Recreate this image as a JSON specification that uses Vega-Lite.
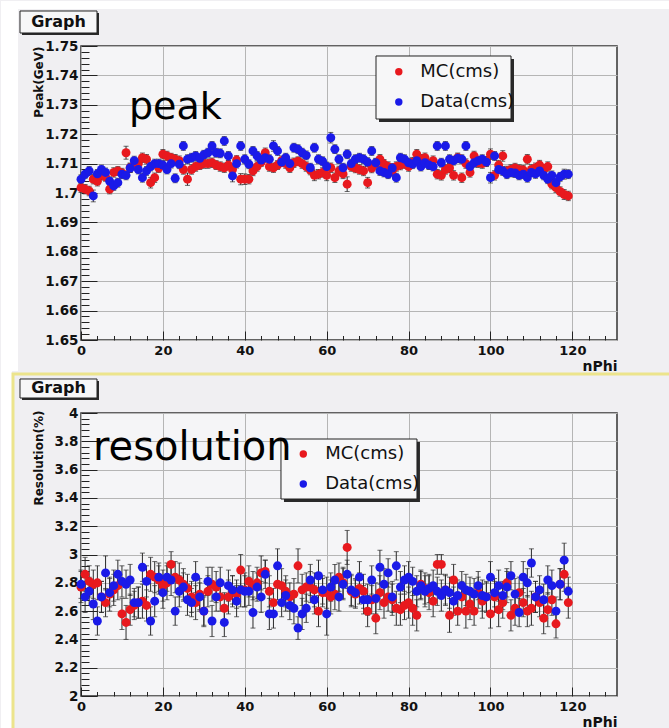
{
"$schema": "https://vega.github.io/schema/vega-lite/v6.json",
"background": "#f0eff2",
"padding": 0,
"autosize": {"type": "pad"},
"datasets": {
"peak": [
{"s":"MC(cms)","n":0,"v":1.7018,"e":0.0016},{"s":"MC(cms)","n":1,"v":1.7013,"e":0.0016},{"s":"MC(cms)","n":2,"v":1.7007,"e":0.0016},{"s":"MC(cms)","n":3,"v":1.7047,"e":0.0016},{"s":"MC(cms)","n":4,"v":1.704,"e":0.0016},{"s":"MC(cms)","n":5,"v":1.706,"e":0.0016},{"s":"MC(cms)","n":6,"v":1.7055,"e":0.0015},{"s":"MC(cms)","n":7,"v":1.7013,"e":0.0016},{"s":"MC(cms)","n":8,"v":1.707,"e":0.0016},{"s":"MC(cms)","n":9,"v":1.7075,"e":0.0015},
{"s":"MC(cms)","n":10,"v":1.7068,"e":0.0016},{"s":"MC(cms)","n":11,"v":1.7137,"e":0.0022},{"s":"MC(cms)","n":12,"v":1.7086,"e":0.0016},{"s":"MC(cms)","n":13,"v":1.7095,"e":0.0015},{"s":"MC(cms)","n":14,"v":1.71,"e":0.0016},{"s":"MC(cms)","n":15,"v":1.712,"e":0.0016},{"s":"MC(cms)","n":16,"v":1.7115,"e":0.0016},{"s":"MC(cms)","n":17,"v":1.7035,"e":0.0018},{"s":"MC(cms)","n":18,"v":1.7052,"e":0.0016},{"s":"MC(cms)","n":19,"v":1.7085,"e":0.0015},
{"s":"MC(cms)","n":20,"v":1.7132,"e":0.0016},{"s":"MC(cms)","n":21,"v":1.7126,"e":0.0016},{"s":"MC(cms)","n":22,"v":1.712,"e":0.0015},{"s":"MC(cms)","n":23,"v":1.7115,"e":0.0016},{"s":"MC(cms)","n":24,"v":1.711,"e":0.0016},{"s":"MC(cms)","n":25,"v":1.708,"e":0.0016},{"s":"MC(cms)","n":26,"v":1.7047,"e":0.0021},{"s":"MC(cms)","n":27,"v":1.708,"e":0.0016},{"s":"MC(cms)","n":28,"v":1.709,"e":0.0016},{"s":"MC(cms)","n":29,"v":1.7095,"e":0.0015},
{"s":"MC(cms)","n":30,"v":1.71,"e":0.0016},{"s":"MC(cms)","n":31,"v":1.71,"e":0.0016},{"s":"MC(cms)","n":32,"v":1.7103,"e":0.0016},{"s":"MC(cms)","n":33,"v":1.7095,"e":0.0015},{"s":"MC(cms)","n":34,"v":1.709,"e":0.0016},{"s":"MC(cms)","n":35,"v":1.7086,"e":0.0016},{"s":"MC(cms)","n":36,"v":1.7095,"e":0.0016},{"s":"MC(cms)","n":37,"v":1.708,"e":0.0016},{"s":"MC(cms)","n":38,"v":1.7112,"e":0.0015},{"s":"MC(cms)","n":39,"v":1.7047,"e":0.0019},
{"s":"MC(cms)","n":40,"v":1.7047,"e":0.0018},{"s":"MC(cms)","n":41,"v":1.7047,"e":0.0016},{"s":"MC(cms)","n":42,"v":1.7075,"e":0.0016},{"s":"MC(cms)","n":43,"v":1.709,"e":0.0016},{"s":"MC(cms)","n":44,"v":1.7105,"e":0.0015},{"s":"MC(cms)","n":45,"v":1.7137,"e":0.0016},{"s":"MC(cms)","n":46,"v":1.709,"e":0.0016},{"s":"MC(cms)","n":47,"v":1.7086,"e":0.0016},{"s":"MC(cms)","n":48,"v":1.7095,"e":0.0015},{"s":"MC(cms)","n":49,"v":1.711,"e":0.0016},
{"s":"MC(cms)","n":50,"v":1.71,"e":0.0016},{"s":"MC(cms)","n":51,"v":1.7086,"e":0.0016},{"s":"MC(cms)","n":52,"v":1.7103,"e":0.0016},{"s":"MC(cms)","n":53,"v":1.7108,"e":0.0015},{"s":"MC(cms)","n":54,"v":1.71,"e":0.0016},{"s":"MC(cms)","n":55,"v":1.709,"e":0.0016},{"s":"MC(cms)","n":56,"v":1.7078,"e":0.0016},{"s":"MC(cms)","n":57,"v":1.706,"e":0.0018},{"s":"MC(cms)","n":58,"v":1.7064,"e":0.0016},{"s":"MC(cms)","n":59,"v":1.707,"e":0.0016},
{"s":"MC(cms)","n":60,"v":1.706,"e":0.0018},{"s":"MC(cms)","n":61,"v":1.7086,"e":0.0016},{"s":"MC(cms)","n":62,"v":1.7052,"e":0.0016},{"s":"MC(cms)","n":63,"v":1.7075,"e":0.0016},{"s":"MC(cms)","n":64,"v":1.7065,"e":0.0016},{"s":"MC(cms)","n":65,"v":1.703,"e":0.0025},{"s":"MC(cms)","n":66,"v":1.709,"e":0.0016},{"s":"MC(cms)","n":67,"v":1.7085,"e":0.0016},{"s":"MC(cms)","n":68,"v":1.708,"e":0.0016},{"s":"MC(cms)","n":69,"v":1.7075,"e":0.0016},
{"s":"MC(cms)","n":70,"v":1.7035,"e":0.0018},{"s":"MC(cms)","n":71,"v":1.7085,"e":0.0016},{"s":"MC(cms)","n":72,"v":1.71,"e":0.0016},{"s":"MC(cms)","n":73,"v":1.7115,"e":0.0016},{"s":"MC(cms)","n":74,"v":1.7098,"e":0.0016},{"s":"MC(cms)","n":75,"v":1.709,"e":0.0016},{"s":"MC(cms)","n":76,"v":1.7075,"e":0.0016},{"s":"MC(cms)","n":77,"v":1.709,"e":0.0016},{"s":"MC(cms)","n":78,"v":1.7095,"e":0.0016},{"s":"MC(cms)","n":79,"v":1.71,"e":0.0016},
{"s":"MC(cms)","n":80,"v":1.709,"e":0.0016},{"s":"MC(cms)","n":81,"v":1.7105,"e":0.0016},{"s":"MC(cms)","n":82,"v":1.7132,"e":0.0016},{"s":"MC(cms)","n":83,"v":1.7115,"e":0.0016},{"s":"MC(cms)","n":84,"v":1.712,"e":0.0016},{"s":"MC(cms)","n":85,"v":1.7098,"e":0.0016},{"s":"MC(cms)","n":86,"v":1.711,"e":0.0016},{"s":"MC(cms)","n":87,"v":1.7064,"e":0.0016},{"s":"MC(cms)","n":88,"v":1.706,"e":0.0016},{"s":"MC(cms)","n":89,"v":1.708,"e":0.0016},
{"s":"MC(cms)","n":90,"v":1.7085,"e":0.0016},{"s":"MC(cms)","n":91,"v":1.706,"e":0.0016},{"s":"MC(cms)","n":92,"v":1.712,"e":0.0016},{"s":"MC(cms)","n":93,"v":1.7052,"e":0.0016},{"s":"MC(cms)","n":94,"v":1.71,"e":0.0016},{"s":"MC(cms)","n":95,"v":1.707,"e":0.0016},{"s":"MC(cms)","n":96,"v":1.7126,"e":0.0016},{"s":"MC(cms)","n":97,"v":1.7103,"e":0.0016},{"s":"MC(cms)","n":98,"v":1.71,"e":0.0016},{"s":"MC(cms)","n":99,"v":1.7108,"e":0.0016},
{"s":"MC(cms)","n":100,"v":1.7132,"e":0.0018},{"s":"MC(cms)","n":101,"v":1.706,"e":0.0016},{"s":"MC(cms)","n":102,"v":1.7095,"e":0.0016},{"s":"MC(cms)","n":103,"v":1.7126,"e":0.0018},{"s":"MC(cms)","n":104,"v":1.7075,"e":0.0016},{"s":"MC(cms)","n":105,"v":1.708,"e":0.0016},{"s":"MC(cms)","n":106,"v":1.7085,"e":0.0016},{"s":"MC(cms)","n":107,"v":1.708,"e":0.0016},{"s":"MC(cms)","n":108,"v":1.7078,"e":0.0016},{"s":"MC(cms)","n":109,"v":1.7115,"e":0.0016},
{"s":"MC(cms)","n":110,"v":1.708,"e":0.0016},{"s":"MC(cms)","n":111,"v":1.7086,"e":0.0016},{"s":"MC(cms)","n":112,"v":1.7095,"e":0.0016},{"s":"MC(cms)","n":113,"v":1.708,"e":0.0016},{"s":"MC(cms)","n":114,"v":1.709,"e":0.0016},{"s":"MC(cms)","n":115,"v":1.703,"e":0.0016},{"s":"MC(cms)","n":116,"v":1.7018,"e":0.0016},{"s":"MC(cms)","n":117,"v":1.7005,"e":0.0016},{"s":"MC(cms)","n":118,"v":1.6995,"e":0.0017},{"s":"MC(cms)","n":119,"v":1.699,"e":0.0016},
{"s":"Data(cms)","n":0,"v":1.7047,"e":0.0015},{"s":"Data(cms)","n":1,"v":1.7064,"e":0.0015},{"s":"Data(cms)","n":2,"v":1.7075,"e":0.0015},{"s":"Data(cms)","n":3,"v":1.699,"e":0.002},{"s":"Data(cms)","n":4,"v":1.7065,"e":0.0015},{"s":"Data(cms)","n":5,"v":1.708,"e":0.0015},{"s":"Data(cms)","n":6,"v":1.707,"e":0.0015},{"s":"Data(cms)","n":7,"v":1.704,"e":0.0015},{"s":"Data(cms)","n":8,"v":1.7024,"e":0.0015},{"s":"Data(cms)","n":9,"v":1.7035,"e":0.0015},
{"s":"Data(cms)","n":10,"v":1.7064,"e":0.0015},{"s":"Data(cms)","n":11,"v":1.706,"e":0.0015},{"s":"Data(cms)","n":12,"v":1.7085,"e":0.0015},{"s":"Data(cms)","n":13,"v":1.711,"e":0.0015},{"s":"Data(cms)","n":14,"v":1.708,"e":0.0015},{"s":"Data(cms)","n":15,"v":1.7052,"e":0.0015},{"s":"Data(cms)","n":16,"v":1.7075,"e":0.0015},{"s":"Data(cms)","n":17,"v":1.709,"e":0.0015},{"s":"Data(cms)","n":18,"v":1.71,"e":0.0015},{"s":"Data(cms)","n":19,"v":1.71,"e":0.0015},
{"s":"Data(cms)","n":20,"v":1.7095,"e":0.0015},{"s":"Data(cms)","n":21,"v":1.708,"e":0.0015},{"s":"Data(cms)","n":22,"v":1.71,"e":0.0015},{"s":"Data(cms)","n":23,"v":1.705,"e":0.0015},{"s":"Data(cms)","n":24,"v":1.7098,"e":0.0015},{"s":"Data(cms)","n":25,"v":1.716,"e":0.0015},{"s":"Data(cms)","n":26,"v":1.7115,"e":0.0015},{"s":"Data(cms)","n":27,"v":1.712,"e":0.0015},{"s":"Data(cms)","n":28,"v":1.7126,"e":0.0015},{"s":"Data(cms)","n":29,"v":1.7118,"e":0.0015},
{"s":"Data(cms)","n":30,"v":1.713,"e":0.0015},{"s":"Data(cms)","n":31,"v":1.7137,"e":0.0015},{"s":"Data(cms)","n":32,"v":1.716,"e":0.0015},{"s":"Data(cms)","n":33,"v":1.7137,"e":0.0015},{"s":"Data(cms)","n":34,"v":1.7135,"e":0.0015},{"s":"Data(cms)","n":35,"v":1.7177,"e":0.0015},{"s":"Data(cms)","n":36,"v":1.7126,"e":0.0015},{"s":"Data(cms)","n":37,"v":1.7058,"e":0.002},{"s":"Data(cms)","n":38,"v":1.71,"e":0.0015},{"s":"Data(cms)","n":39,"v":1.716,"e":0.0015},
{"s":"Data(cms)","n":40,"v":1.7115,"e":0.0015},{"s":"Data(cms)","n":41,"v":1.7098,"e":0.0015},{"s":"Data(cms)","n":42,"v":1.7143,"e":0.0015},{"s":"Data(cms)","n":43,"v":1.7126,"e":0.0015},{"s":"Data(cms)","n":44,"v":1.7112,"e":0.0015},{"s":"Data(cms)","n":45,"v":1.712,"e":0.0015},{"s":"Data(cms)","n":46,"v":1.7115,"e":0.0015},{"s":"Data(cms)","n":47,"v":1.716,"e":0.0018},{"s":"Data(cms)","n":48,"v":1.7143,"e":0.0015},{"s":"Data(cms)","n":49,"v":1.7105,"e":0.0015},
{"s":"Data(cms)","n":50,"v":1.712,"e":0.0015},{"s":"Data(cms)","n":51,"v":1.71,"e":0.0015},{"s":"Data(cms)","n":52,"v":1.7154,"e":0.0015},{"s":"Data(cms)","n":53,"v":1.7149,"e":0.0015},{"s":"Data(cms)","n":54,"v":1.7137,"e":0.0015},{"s":"Data(cms)","n":55,"v":1.7128,"e":0.0015},{"s":"Data(cms)","n":56,"v":1.7086,"e":0.0015},{"s":"Data(cms)","n":57,"v":1.7154,"e":0.0015},{"s":"Data(cms)","n":58,"v":1.7115,"e":0.0015},{"s":"Data(cms)","n":59,"v":1.7108,"e":0.0015},
{"s":"Data(cms)","n":60,"v":1.709,"e":0.0015},{"s":"Data(cms)","n":61,"v":1.7188,"e":0.0018},{"s":"Data(cms)","n":62,"v":1.7149,"e":0.0015},{"s":"Data(cms)","n":63,"v":1.7115,"e":0.0015},{"s":"Data(cms)","n":64,"v":1.7086,"e":0.0015},{"s":"Data(cms)","n":65,"v":1.7132,"e":0.0015},{"s":"Data(cms)","n":66,"v":1.71,"e":0.0015},{"s":"Data(cms)","n":67,"v":1.7115,"e":0.0015},{"s":"Data(cms)","n":68,"v":1.712,"e":0.0015},{"s":"Data(cms)","n":69,"v":1.7115,"e":0.0015},
{"s":"Data(cms)","n":70,"v":1.7105,"e":0.0015},{"s":"Data(cms)","n":71,"v":1.7143,"e":0.0015},{"s":"Data(cms)","n":72,"v":1.7103,"e":0.0015},{"s":"Data(cms)","n":73,"v":1.7075,"e":0.0015},{"s":"Data(cms)","n":74,"v":1.707,"e":0.0015},{"s":"Data(cms)","n":75,"v":1.7064,"e":0.0015},{"s":"Data(cms)","n":76,"v":1.7085,"e":0.0015},{"s":"Data(cms)","n":77,"v":1.7052,"e":0.0015},{"s":"Data(cms)","n":78,"v":1.712,"e":0.0015},{"s":"Data(cms)","n":79,"v":1.7115,"e":0.0015},
{"s":"Data(cms)","n":80,"v":1.7103,"e":0.0015},{"s":"Data(cms)","n":81,"v":1.7098,"e":0.0015},{"s":"Data(cms)","n":82,"v":1.711,"e":0.0015},{"s":"Data(cms)","n":83,"v":1.709,"e":0.0015},{"s":"Data(cms)","n":84,"v":1.7103,"e":0.0015},{"s":"Data(cms)","n":85,"v":1.7095,"e":0.0015},{"s":"Data(cms)","n":86,"v":1.709,"e":0.0015},{"s":"Data(cms)","n":87,"v":1.716,"e":0.0015},{"s":"Data(cms)","n":88,"v":1.7103,"e":0.0015},{"s":"Data(cms)","n":89,"v":1.716,"e":0.0015},
{"s":"Data(cms)","n":90,"v":1.7115,"e":0.0015},{"s":"Data(cms)","n":91,"v":1.711,"e":0.0015},{"s":"Data(cms)","n":92,"v":1.7118,"e":0.0015},{"s":"Data(cms)","n":93,"v":1.7115,"e":0.0015},{"s":"Data(cms)","n":94,"v":1.716,"e":0.0015},{"s":"Data(cms)","n":95,"v":1.709,"e":0.0015},{"s":"Data(cms)","n":96,"v":1.7103,"e":0.0015},{"s":"Data(cms)","n":97,"v":1.711,"e":0.0015},{"s":"Data(cms)","n":98,"v":1.7115,"e":0.0015},{"s":"Data(cms)","n":99,"v":1.7105,"e":0.0015},
{"s":"Data(cms)","n":100,"v":1.7052,"e":0.0018},{"s":"Data(cms)","n":101,"v":1.7126,"e":0.0015},{"s":"Data(cms)","n":102,"v":1.708,"e":0.0015},{"s":"Data(cms)","n":103,"v":1.7075,"e":0.0015},{"s":"Data(cms)","n":104,"v":1.7064,"e":0.0015},{"s":"Data(cms)","n":105,"v":1.707,"e":0.0015},{"s":"Data(cms)","n":106,"v":1.7068,"e":0.0015},{"s":"Data(cms)","n":107,"v":1.706,"e":0.0015},{"s":"Data(cms)","n":108,"v":1.7064,"e":0.0015},{"s":"Data(cms)","n":109,"v":1.7052,"e":0.0015},
{"s":"Data(cms)","n":110,"v":1.707,"e":0.0015},{"s":"Data(cms)","n":111,"v":1.7065,"e":0.0015},{"s":"Data(cms)","n":112,"v":1.7075,"e":0.0015},{"s":"Data(cms)","n":113,"v":1.706,"e":0.0015},{"s":"Data(cms)","n":114,"v":1.7047,"e":0.0015},{"s":"Data(cms)","n":115,"v":1.706,"e":0.0015},{"s":"Data(cms)","n":116,"v":1.7035,"e":0.0015},{"s":"Data(cms)","n":117,"v":1.7055,"e":0.0015},{"s":"Data(cms)","n":118,"v":1.7064,"e":0.0017},{"s":"Data(cms)","n":119,"v":1.7064,"e":0.0015}
],
"res": [
{"s":"MC(cms)","n":0,"v":2.77,"e":0.11},{"s":"MC(cms)","n":1,"v":2.86,"e":0.12},{"s":"MC(cms)","n":2,"v":2.81,"e":0.11},{"s":"MC(cms)","n":3,"v":2.79,"e":0.1},{"s":"MC(cms)","n":4,"v":2.8,"e":0.12},{"s":"MC(cms)","n":5,"v":2.7,"e":0.11},{"s":"MC(cms)","n":6,"v":2.66,"e":0.1},{"s":"MC(cms)","n":7,"v":2.72,"e":0.12},{"s":"MC(cms)","n":8,"v":2.75,"e":0.11},{"s":"MC(cms)","n":9,"v":2.78,"e":0.1},
{"s":"MC(cms)","n":10,"v":2.58,"e":0.11},{"s":"MC(cms)","n":11,"v":2.52,"e":0.12},{"s":"MC(cms)","n":12,"v":2.61,"e":0.11},{"s":"MC(cms)","n":13,"v":2.64,"e":0.1},{"s":"MC(cms)","n":14,"v":2.66,"e":0.11},{"s":"MC(cms)","n":15,"v":2.67,"e":0.12},{"s":"MC(cms)","n":16,"v":2.64,"e":0.11},{"s":"MC(cms)","n":17,"v":2.86,"e":0.12},{"s":"MC(cms)","n":18,"v":2.84,"e":0.11},{"s":"MC(cms)","n":19,"v":2.82,"e":0.1},
{"s":"MC(cms)","n":20,"v":2.78,"e":0.11},{"s":"MC(cms)","n":21,"v":2.8,"e":0.12},{"s":"MC(cms)","n":22,"v":2.93,"e":0.09},{"s":"MC(cms)","n":23,"v":2.84,"e":0.11},{"s":"MC(cms)","n":24,"v":2.82,"e":0.12},{"s":"MC(cms)","n":25,"v":2.79,"e":0.11},{"s":"MC(cms)","n":26,"v":2.76,"e":0.1},{"s":"MC(cms)","n":27,"v":2.7,"e":0.11},{"s":"MC(cms)","n":28,"v":2.66,"e":0.12},{"s":"MC(cms)","n":29,"v":2.72,"e":0.11},
{"s":"MC(cms)","n":30,"v":2.6,"e":0.1},{"s":"MC(cms)","n":31,"v":2.74,"e":0.11},{"s":"MC(cms)","n":32,"v":2.79,"e":0.12},{"s":"MC(cms)","n":33,"v":2.77,"e":0.11},{"s":"MC(cms)","n":34,"v":2.7,"e":0.1},{"s":"MC(cms)","n":35,"v":2.62,"e":0.11},{"s":"MC(cms)","n":36,"v":2.7,"e":0.12},{"s":"MC(cms)","n":37,"v":2.74,"e":0.11},{"s":"MC(cms)","n":38,"v":2.72,"e":0.1},{"s":"MC(cms)","n":39,"v":2.89,"e":0.11},
{"s":"MC(cms)","n":40,"v":2.75,"e":0.12},{"s":"MC(cms)","n":41,"v":2.81,"e":0.11},{"s":"MC(cms)","n":42,"v":2.78,"e":0.1},{"s":"MC(cms)","n":43,"v":2.8,"e":0.11},{"s":"MC(cms)","n":44,"v":2.87,"e":0.12},{"s":"MC(cms)","n":45,"v":2.88,"e":0.08},{"s":"MC(cms)","n":46,"v":2.74,"e":0.11},{"s":"MC(cms)","n":47,"v":2.66,"e":0.1},{"s":"MC(cms)","n":48,"v":2.79,"e":0.11},{"s":"MC(cms)","n":49,"v":2.78,"e":0.12},
{"s":"MC(cms)","n":50,"v":2.74,"e":0.11},{"s":"MC(cms)","n":51,"v":2.7,"e":0.1},{"s":"MC(cms)","n":52,"v":2.72,"e":0.11},{"s":"MC(cms)","n":53,"v":2.92,"e":0.12},{"s":"MC(cms)","n":54,"v":2.75,"e":0.11},{"s":"MC(cms)","n":55,"v":2.77,"e":0.1},{"s":"MC(cms)","n":56,"v":2.77,"e":0.11},{"s":"MC(cms)","n":57,"v":2.75,"e":0.12},{"s":"MC(cms)","n":58,"v":2.6,"e":0.11},{"s":"MC(cms)","n":59,"v":2.73,"e":0.1},
{"s":"MC(cms)","n":60,"v":2.73,"e":0.11},{"s":"MC(cms)","n":61,"v":2.7,"e":0.12},{"s":"MC(cms)","n":62,"v":2.72,"e":0.11},{"s":"MC(cms)","n":63,"v":2.84,"e":0.1},{"s":"MC(cms)","n":64,"v":2.8,"e":0.11},{"s":"MC(cms)","n":65,"v":3.05,"e":0.12},{"s":"MC(cms)","n":66,"v":2.74,"e":0.11},{"s":"MC(cms)","n":67,"v":2.72,"e":0.1},{"s":"MC(cms)","n":68,"v":2.76,"e":0.11},{"s":"MC(cms)","n":69,"v":2.74,"e":0.12},
{"s":"MC(cms)","n":70,"v":2.6,"e":0.11},{"s":"MC(cms)","n":71,"v":2.68,"e":0.1},{"s":"MC(cms)","n":72,"v":2.55,"e":0.11},{"s":"MC(cms)","n":73,"v":2.73,"e":0.12},{"s":"MC(cms)","n":74,"v":2.66,"e":0.11},{"s":"MC(cms)","n":75,"v":2.7,"e":0.1},{"s":"MC(cms)","n":76,"v":2.68,"e":0.11},{"s":"MC(cms)","n":77,"v":2.62,"e":0.12},{"s":"MC(cms)","n":78,"v":2.61,"e":0.11},{"s":"MC(cms)","n":79,"v":2.64,"e":0.1},
{"s":"MC(cms)","n":80,"v":2.66,"e":0.11},{"s":"MC(cms)","n":81,"v":2.62,"e":0.12},{"s":"MC(cms)","n":82,"v":2.57,"e":0.11},{"s":"MC(cms)","n":83,"v":2.79,"e":0.1},{"s":"MC(cms)","n":84,"v":2.76,"e":0.11},{"s":"MC(cms)","n":85,"v":2.73,"e":0.12},{"s":"MC(cms)","n":86,"v":2.67,"e":0.11},{"s":"MC(cms)","n":87,"v":2.93,"e":0.07},{"s":"MC(cms)","n":88,"v":2.93,"e":0.07},{"s":"MC(cms)","n":89,"v":2.75,"e":0.11},
{"s":"MC(cms)","n":90,"v":2.57,"e":0.12},{"s":"MC(cms)","n":91,"v":2.82,"e":0.11},{"s":"MC(cms)","n":92,"v":2.6,"e":0.1},{"s":"MC(cms)","n":93,"v":2.7,"e":0.11},{"s":"MC(cms)","n":94,"v":2.6,"e":0.12},{"s":"MC(cms)","n":95,"v":2.65,"e":0.11},{"s":"MC(cms)","n":96,"v":2.6,"e":0.1},{"s":"MC(cms)","n":97,"v":2.73,"e":0.11},{"s":"MC(cms)","n":98,"v":2.67,"e":0.12},{"s":"MC(cms)","n":99,"v":2.7,"e":0.11},
{"s":"MC(cms)","n":100,"v":2.58,"e":0.1},{"s":"MC(cms)","n":101,"v":2.7,"e":0.11},{"s":"MC(cms)","n":102,"v":2.61,"e":0.12},{"s":"MC(cms)","n":103,"v":2.66,"e":0.11},{"s":"MC(cms)","n":104,"v":2.8,"e":0.1},{"s":"MC(cms)","n":105,"v":2.57,"e":0.11},{"s":"MC(cms)","n":106,"v":2.62,"e":0.12},{"s":"MC(cms)","n":107,"v":2.73,"e":0.11},{"s":"MC(cms)","n":108,"v":2.66,"e":0.1},{"s":"MC(cms)","n":109,"v":2.6,"e":0.11},
{"s":"MC(cms)","n":110,"v":2.62,"e":0.12},{"s":"MC(cms)","n":111,"v":2.7,"e":0.11},{"s":"MC(cms)","n":112,"v":2.66,"e":0.1},{"s":"MC(cms)","n":113,"v":2.55,"e":0.11},{"s":"MC(cms)","n":114,"v":2.61,"e":0.12},{"s":"MC(cms)","n":115,"v":2.68,"e":0.11},{"s":"MC(cms)","n":116,"v":2.51,"e":0.1},{"s":"MC(cms)","n":117,"v":2.79,"e":0.11},{"s":"MC(cms)","n":118,"v":2.86,"e":0.12},{"s":"MC(cms)","n":119,"v":2.66,"e":0.11},
{"s":"Data(cms)","n":0,"v":2.79,"e":0.1},{"s":"Data(cms)","n":1,"v":2.7,"e":0.11},{"s":"Data(cms)","n":2,"v":2.74,"e":0.1},{"s":"Data(cms)","n":3,"v":2.65,"e":0.11},{"s":"Data(cms)","n":4,"v":2.53,"e":0.1},{"s":"Data(cms)","n":5,"v":2.7,"e":0.11},{"s":"Data(cms)","n":6,"v":2.87,"e":0.12},{"s":"Data(cms)","n":7,"v":2.73,"e":0.1},{"s":"Data(cms)","n":8,"v":2.78,"e":0.11},{"s":"Data(cms)","n":9,"v":2.86,"e":0.1},
{"s":"Data(cms)","n":10,"v":2.81,"e":0.11},{"s":"Data(cms)","n":11,"v":2.79,"e":0.1},{"s":"Data(cms)","n":12,"v":2.82,"e":0.11},{"s":"Data(cms)","n":13,"v":2.66,"e":0.1},{"s":"Data(cms)","n":14,"v":2.66,"e":0.11},{"s":"Data(cms)","n":15,"v":2.91,"e":0.1},{"s":"Data(cms)","n":16,"v":2.81,"e":0.11},{"s":"Data(cms)","n":17,"v":2.53,"e":0.1},{"s":"Data(cms)","n":18,"v":2.67,"e":0.11},{"s":"Data(cms)","n":19,"v":2.84,"e":0.1},
{"s":"Data(cms)","n":20,"v":2.73,"e":0.11},{"s":"Data(cms)","n":21,"v":2.84,"e":0.1},{"s":"Data(cms)","n":22,"v":2.82,"e":0.11},{"s":"Data(cms)","n":23,"v":2.6,"e":0.1},{"s":"Data(cms)","n":24,"v":2.74,"e":0.11},{"s":"Data(cms)","n":25,"v":2.77,"e":0.1},{"s":"Data(cms)","n":26,"v":2.68,"e":0.11},{"s":"Data(cms)","n":27,"v":2.66,"e":0.1},{"s":"Data(cms)","n":28,"v":2.84,"e":0.11},{"s":"Data(cms)","n":29,"v":2.7,"e":0.1},
{"s":"Data(cms)","n":30,"v":2.6,"e":0.11},{"s":"Data(cms)","n":31,"v":2.81,"e":0.1},{"s":"Data(cms)","n":32,"v":2.53,"e":0.11},{"s":"Data(cms)","n":33,"v":2.7,"e":0.1},{"s":"Data(cms)","n":34,"v":2.8,"e":0.11},{"s":"Data(cms)","n":35,"v":2.52,"e":0.1},{"s":"Data(cms)","n":36,"v":2.78,"e":0.11},{"s":"Data(cms)","n":37,"v":2.75,"e":0.1},{"s":"Data(cms)","n":38,"v":2.67,"e":0.11},{"s":"Data(cms)","n":39,"v":2.75,"e":0.12},
{"s":"Data(cms)","n":40,"v":2.74,"e":0.11},{"s":"Data(cms)","n":41,"v":2.74,"e":0.1},{"s":"Data(cms)","n":42,"v":2.59,"e":0.11},{"s":"Data(cms)","n":43,"v":2.77,"e":0.1},{"s":"Data(cms)","n":44,"v":2.7,"e":0.11},{"s":"Data(cms)","n":45,"v":2.86,"e":0.1},{"s":"Data(cms)","n":46,"v":2.58,"e":0.11},{"s":"Data(cms)","n":47,"v":2.58,"e":0.1},{"s":"Data(cms)","n":48,"v":2.92,"e":0.12},{"s":"Data(cms)","n":49,"v":2.66,"e":0.1},
{"s":"Data(cms)","n":50,"v":2.71,"e":0.11},{"s":"Data(cms)","n":51,"v":2.64,"e":0.1},{"s":"Data(cms)","n":52,"v":2.62,"e":0.11},{"s":"Data(cms)","n":53,"v":2.48,"e":0.08},{"s":"Data(cms)","n":54,"v":2.58,"e":0.11},{"s":"Data(cms)","n":55,"v":2.62,"e":0.1},{"s":"Data(cms)","n":56,"v":2.82,"e":0.11},{"s":"Data(cms)","n":57,"v":2.68,"e":0.1},{"s":"Data(cms)","n":58,"v":2.85,"e":0.11},{"s":"Data(cms)","n":59,"v":2.75,"e":0.1},
{"s":"Data(cms)","n":60,"v":2.58,"e":0.15},{"s":"Data(cms)","n":61,"v":2.77,"e":0.1},{"s":"Data(cms)","n":62,"v":2.82,"e":0.11},{"s":"Data(cms)","n":63,"v":2.7,"e":0.1},{"s":"Data(cms)","n":64,"v":2.79,"e":0.11},{"s":"Data(cms)","n":65,"v":2.86,"e":0.1},{"s":"Data(cms)","n":66,"v":2.75,"e":0.11},{"s":"Data(cms)","n":67,"v":2.73,"e":0.1},{"s":"Data(cms)","n":68,"v":2.84,"e":0.11},{"s":"Data(cms)","n":69,"v":2.68,"e":0.1},
{"s":"Data(cms)","n":70,"v":2.68,"e":0.11},{"s":"Data(cms)","n":71,"v":2.82,"e":0.1},{"s":"Data(cms)","n":72,"v":2.69,"e":0.11},{"s":"Data(cms)","n":73,"v":2.91,"e":0.12},{"s":"Data(cms)","n":74,"v":2.79,"e":0.11},{"s":"Data(cms)","n":75,"v":2.87,"e":0.1},{"s":"Data(cms)","n":76,"v":2.7,"e":0.11},{"s":"Data(cms)","n":77,"v":2.92,"e":0.1},{"s":"Data(cms)","n":78,"v":2.77,"e":0.11},{"s":"Data(cms)","n":79,"v":2.82,"e":0.1},
{"s":"Data(cms)","n":80,"v":2.84,"e":0.11},{"s":"Data(cms)","n":81,"v":2.81,"e":0.1},{"s":"Data(cms)","n":82,"v":2.74,"e":0.11},{"s":"Data(cms)","n":83,"v":2.78,"e":0.1},{"s":"Data(cms)","n":84,"v":2.74,"e":0.11},{"s":"Data(cms)","n":85,"v":2.76,"e":0.1},{"s":"Data(cms)","n":86,"v":2.78,"e":0.11},{"s":"Data(cms)","n":87,"v":2.74,"e":0.1},{"s":"Data(cms)","n":88,"v":2.71,"e":0.11},{"s":"Data(cms)","n":89,"v":2.75,"e":0.1},
{"s":"Data(cms)","n":90,"v":2.73,"e":0.11},{"s":"Data(cms)","n":91,"v":2.67,"e":0.1},{"s":"Data(cms)","n":92,"v":2.71,"e":0.11},{"s":"Data(cms)","n":93,"v":2.78,"e":0.1},{"s":"Data(cms)","n":94,"v":2.75,"e":0.11},{"s":"Data(cms)","n":95,"v":2.74,"e":0.1},{"s":"Data(cms)","n":96,"v":2.72,"e":0.11},{"s":"Data(cms)","n":97,"v":2.78,"e":0.1},{"s":"Data(cms)","n":98,"v":2.71,"e":0.11},{"s":"Data(cms)","n":99,"v":2.7,"e":0.1},
{"s":"Data(cms)","n":100,"v":2.84,"e":0.11},{"s":"Data(cms)","n":101,"v":2.73,"e":0.1},{"s":"Data(cms)","n":102,"v":2.78,"e":0.11},{"s":"Data(cms)","n":103,"v":2.71,"e":0.1},{"s":"Data(cms)","n":104,"v":2.77,"e":0.11},{"s":"Data(cms)","n":105,"v":2.85,"e":0.1},{"s":"Data(cms)","n":106,"v":2.72,"e":0.11},{"s":"Data(cms)","n":107,"v":2.59,"e":0.1},{"s":"Data(cms)","n":108,"v":2.84,"e":0.11},{"s":"Data(cms)","n":109,"v":2.8,"e":0.1},
{"s":"Data(cms)","n":110,"v":2.94,"e":0.1},{"s":"Data(cms)","n":111,"v":2.7,"e":0.11},{"s":"Data(cms)","n":112,"v":2.75,"e":0.1},{"s":"Data(cms)","n":113,"v":2.68,"e":0.11},{"s":"Data(cms)","n":114,"v":2.82,"e":0.1},{"s":"Data(cms)","n":115,"v":2.78,"e":0.11},{"s":"Data(cms)","n":116,"v":2.6,"e":0.1},{"s":"Data(cms)","n":117,"v":2.79,"e":0.11},{"s":"Data(cms)","n":118,"v":2.96,"e":0.12},{"s":"Data(cms)","n":119,"v":2.74,"e":0.1}
]
},
"config": {
  "font": "DejaVu Sans",
  "view": {"fill": "#f5f5f7", "stroke": "#333333", "strokeWidth": 1.5},
  "axis": {"domain": false, "labelFont": "DejaVu Sans", "labelFontWeight": "bold", "labelColor": "#111111", "tickColor": "#222222", "tickWidth": 1, "gridColor": "#b5b5b5", "gridWidth": 1, "titleFont": "DejaVu Sans", "titleFontWeight": "bold", "titleColor": "#111111", "labelFlush": false, "labelOverlap": false}
},
"spacing": 73,
"bounds": "flush",
"resolve": {"scale": {"x": "independent", "y": "independent", "color": "independent"}, "legend": {"color": "independent"}},
"vconcat": [
{
  "width": 536, "height": 294,
  "data": {"name": "peak"},
  "resolve": {"axis": {"x": "independent", "y": "independent"}},
  "layer": [
    {"data": {"values": [{}]}, "mark": {"type": "rect", "fill": "#ffffff"}, "encoding": {"x": {"datum": -19.537, "type": "quantitative", "axis": null}, "x2": {"datum": 143.845}, "y": {"datum": 1.765306, "type": "quantitative", "axis": null}, "y2": {"datum": 1.762585}}},
    {"data": {"values": [{}]}, "mark": {"type": "rect", "fill": "#ffffff"}, "encoding": {"x": {"datum": -19.537, "type": "quantitative", "axis": null}, "x2": {"datum": -15.386}, "y": {"datum": 1.765306, "type": "quantitative", "axis": null}, "y2": {"datum": 1.639456}}},
    {"data": {"values": [{}]}, "mark": {"type": "rect", "fill": "#2a2a2a"}, "encoding": {"x": {"datum": -14.41, "type": "quantitative", "axis": null}, "x2": {"datum": 4.396}, "y": {"datum": 1.761224, "type": "quantitative", "axis": null}, "y2": {"datum": 1.753741}}},
    {"data": {"values": [{}]}, "mark": {"type": "rect", "fill": "#f7f7f8", "stroke": "#222222", "strokeWidth": 1}, "encoding": {"x": {"datum": -14.898, "type": "quantitative", "axis": null}, "x2": {"datum": 3.9075}, "y": {"datum": 1.761905, "type": "quantitative", "axis": null}, "y2": {"datum": 1.754422}}},
    {"data": {"values": [{}]}, "mark": {"type": "text", "text": "Graph", "font": "DejaVu Sans", "fontWeight": "bold", "fontSize": 16, "align": "center", "baseline": "middle", "color": "#111111"}, "encoding": {"x": {"datum": -5.495, "type": "quantitative", "axis": null}, "y": {"datum": 1.758163, "type": "quantitative", "axis": null}}},
    {"data": {"values": [{}]}, "mark": {"type": "rect", "fill": "#2a2a2a"}, "encoding": {"x": {"datum": 72.777, "type": "quantitative", "axis": null}, "x2": {"datum": 105.746}, "y": {"datum": 1.745578, "type": "quantitative", "axis": null}, "y2": {"datum": 1.72415}}},
    {"data": {"values": [{}]}, "mark": {"type": "rect", "fill": "#f7f7f8", "stroke": "#222222", "strokeWidth": 1}, "encoding": {"x": {"datum": 72.044, "type": "quantitative", "axis": null}, "x2": {"datum": 105.014}, "y": {"datum": 1.746599, "type": "quantitative", "axis": null}, "y2": {"datum": 1.72517}}},
    {"mark": {"type": "errorbar", "ticks": {"size": 5}, "color": "#2a2a2a", "thickness": 1}, "encoding": {"x": {"field": "n", "type": "quantitative", "axis": null}, "y": {"field": "v", "type": "quantitative", "axis": null}, "yError": {"field": "e"}}},
    {"mark": {"type": "circle", "size": 80, "opacity": 1},
     "encoding": {
      "x": {"field": "n", "type": "quantitative", "scale": {"domain": [0, 130.9], "nice": false, "zero": false},
        "axis": {"orient": "bottom", "grid": true, "title": "nPhi", "titleFontSize": 14, "titleAnchor": "end", "titleAlign": "right", "titleX": 536, "titleY": 30, "titleBaseline": "alphabetic",
          "values": [0,20,40,60,80,100,120], "format": "d", "labelFontSize": 13, "labelPadding": 13, "labelBaseline": "top", "tickSize": -9}},
      "y": {"field": "v", "type": "quantitative", "scale": {"domain": [1.65, 1.75], "nice": false, "zero": false},
        "axis": {"orient": "left", "grid": true, "title": "Peak(GeV)", "titleFontSize": 12, "titleAngle": -90, "titleAlign": "right", "titleBaseline": "middle", "titleX": -42.5, "titleY": 0,
          "values": [1.65,1.66,1.67,1.68,1.69,1.7,1.71,1.72,1.73,1.74,1.75], "format": ".3~g", "labelFontSize": 13.5, "labelPadding": 19, "tickSize": -16}},
      "color": {"field": "s", "type": "nominal", "scale": {"domain": ["MC(cms)", "Data(cms)"], "range": ["#e8191e", "#1a1ae8"]},
        "legend": {"title": null, "orient": "none", "legendX": 308.8, "legendY": 16.7, "direction": "vertical", "labelFont": "DejaVu Sans", "labelFontSize": 18, "labelColor": "#111111", "symbolType": "circle", "symbolSize": 55, "symbolStrokeWidth": 0, "rowPadding": 12.3, "labelOffset": 12.5, "padding": 0}}
     }},
    {"data": {"values": [{}]}, "mark": {"type": "text", "text": "peak", "font": "DejaVu Sans", "fontSize": 38, "align": "left", "baseline": "alphabetic", "color": "#000000"},
     "encoding": {
      "x": {"datum": 11.72, "type": "quantitative", "axis": {"orient": "bottom", "grid": false, "title": null, "labels": false, "values": [4,8,12,16,24,28,32,36,44,48,52,56,64,68,72,76,84,88,92,96,104,108,112,116,124,128], "tickSize": -4.5}},
      "y": {"datum": 1.72517, "type": "quantitative", "axis": {"orient": "left", "grid": false, "title": null, "labels": false, "values": [1.652,1.654,1.656,1.658,1.662,1.664,1.666,1.668,1.672,1.674,1.676,1.678,1.682,1.684,1.686,1.688,1.692,1.694,1.696,1.698,1.702,1.704,1.706,1.708,1.712,1.714,1.716,1.718,1.722,1.724,1.726,1.728,1.732,1.734,1.736,1.738,1.742,1.744,1.746,1.748], "tickSize": -8}}}}
  ]
},
{
  "width": 536, "height": 283,
  "data": {"name": "res"},
  "resolve": {"axis": {"x": "independent", "y": "independent"}},
  "layer": [
    {"data": {"values": [{}]}, "mark": {"type": "rect", "fill": "#ffffff"}, "encoding": {"x": {"datum": -19.537, "type": "quantitative", "axis": null}, "x2": {"datum": -16.851}, "y": {"datum": 4.310954, "type": "quantitative", "axis": null}, "y2": {"datum": 1.766784}}},
    {"data": {"values": [{}]}, "mark": {"type": "rect", "filled": false, "color": "#ece48c", "strokeWidth": 3}, "encoding": {"x": {"datum": -16.607, "type": "quantitative", "axis": null}, "x2": {"datum": 144.578}, "y": {"datum": 4.275618, "type": "quantitative", "axis": null}, "y2": {"datum": 1.745583}}},
    {"data": {"values": [{}]}, "mark": {"type": "rect", "fill": "#2a2a2a"}, "encoding": {"x": {"datum": -14.41, "type": "quantitative", "axis": null}, "x2": {"datum": 4.396}, "y": {"datum": 4.226148, "type": "quantitative", "axis": null}, "y2": {"datum": 4.091873}}},
    {"data": {"values": [{}]}, "mark": {"type": "rect", "fill": "#f7f7f8", "stroke": "#222222", "strokeWidth": 1}, "encoding": {"x": {"datum": -14.898, "type": "quantitative", "axis": null}, "x2": {"datum": 3.9075}, "y": {"datum": 4.240283, "type": "quantitative", "axis": null}, "y2": {"datum": 4.106007}}},
    {"data": {"values": [{}]}, "mark": {"type": "text", "text": "Graph", "font": "DejaVu Sans", "fontWeight": "bold", "fontSize": 16, "align": "center", "baseline": "middle", "color": "#111111"}, "encoding": {"x": {"datum": -5.495, "type": "quantitative", "axis": null}, "y": {"datum": 4.173145, "type": "quantitative", "axis": null}}},
    {"data": {"values": [{}]}, "mark": {"type": "rect", "fill": "#2a2a2a"}, "encoding": {"x": {"datum": 49.57, "type": "quantitative", "axis": null}, "x2": {"datum": 82.78}, "y": {"datum": 3.795053, "type": "quantitative", "axis": null}, "y2": {"datum": 3.371025}}},
    {"data": {"values": [{}]}, "mark": {"type": "rect", "fill": "#f7f7f8", "stroke": "#222222", "strokeWidth": 1}, "encoding": {"x": {"datum": 48.838, "type": "quantitative", "axis": null}, "x2": {"datum": 82.052}, "y": {"datum": 3.816254, "type": "quantitative", "axis": null}, "y2": {"datum": 3.392226}}},
    {"mark": {"type": "errorbar", "ticks": {"size": 5}, "color": "#2a2a2a", "thickness": 1}, "encoding": {"x": {"field": "n", "type": "quantitative", "axis": null}, "y": {"field": "v", "type": "quantitative", "axis": null}, "yError": {"field": "e"}}},
    {"mark": {"type": "circle", "size": 80, "opacity": 1},
     "encoding": {
      "x": {"field": "n", "type": "quantitative", "scale": {"domain": [0, 130.9], "nice": false, "zero": false},
        "axis": {"orient": "bottom", "grid": true, "title": "nPhi", "titleFontSize": 14, "titleAnchor": "end", "titleAlign": "right", "titleX": 536, "titleY": 30, "titleBaseline": "alphabetic",
          "values": [0,20,40,60,80,100,120], "format": "d", "labelFontSize": 13, "labelPadding": 13, "labelBaseline": "top", "tickSize": -9}},
      "y": {"field": "v", "type": "quantitative", "scale": {"domain": [2, 4], "nice": false, "zero": false},
        "axis": {"orient": "left", "grid": true, "title": "Resolution(%)", "titleFontSize": 12, "titleAngle": -90, "titleAlign": "right", "titleBaseline": "middle", "titleX": -42.5, "titleY": -3,
          "values": [2,2.2,2.4,2.6,2.8,3,3.2,3.4,3.6,3.8,4], "format": ".2~g", "labelFontSize": 13.5, "labelPadding": 19, "tickSize": -16}},
      "color": {"field": "s", "type": "nominal", "scale": {"domain": ["MC(cms)", "Data(cms)"], "range": ["#e8191e", "#1a1ae8"]},
        "legend": {"title": null, "orient": "none", "legendX": 213.3, "legendY": 32, "direction": "vertical", "labelFont": "DejaVu Sans", "labelFontSize": 18, "labelColor": "#111111", "symbolType": "circle", "symbolSize": 55, "symbolStrokeWidth": 0, "rowPadding": 12, "labelOffset": 12.9, "padding": 0}}
     }},
    {"data": {"values": [{}]}, "mark": {"type": "text", "text": "resolution", "font": "DejaVu Sans", "fontSize": 40, "align": "left", "baseline": "alphabetic", "color": "#000000"},
     "encoding": {
      "x": {"datum": 2.93, "type": "quantitative", "axis": {"orient": "bottom", "grid": false, "title": null, "labels": false, "values": [4,8,12,16,24,28,32,36,44,48,52,56,64,68,72,76,84,88,92,96,104,108,112,116,124,128], "tickSize": -4.5}},
      "y": {"datum": 3.667845, "type": "quantitative", "axis": {"orient": "left", "grid": false, "title": null, "labels": false, "values": [2.04,2.08,2.12,2.16,2.24,2.28,2.32,2.36,2.44,2.48,2.52,2.56,2.64,2.68,2.72,2.76,2.84,2.88,2.92,2.96,3.04,3.08,3.12,3.16,3.24,3.28,3.32,3.36,3.44,3.48,3.52,3.56,3.64,3.68,3.72,3.76,3.84,3.88,3.92,3.96], "tickSize": -8}}}}
  ]
}
]
}
